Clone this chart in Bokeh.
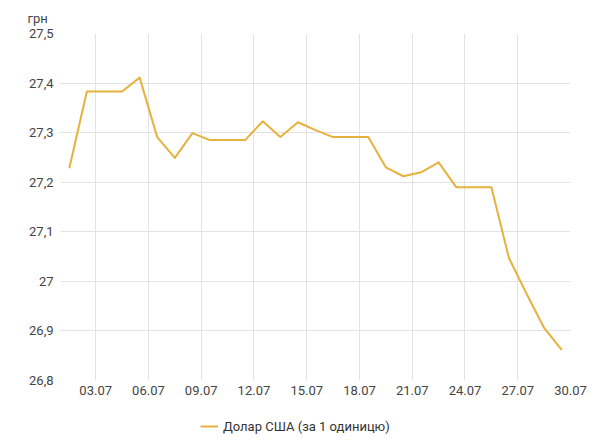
from bokeh.plotting import figure
from bokeh.layouts import column
from bokeh.models import Range1d, FixedTicker, Legend, LegendItem
from bokeh.embed import file_html
from bokeh.resources import INLINE

# --- data -------------------------------------------------------------
days = list(range(1, 30))  # July 1..29, values at mid-day
usd_rate = [27.228, 27.383, 27.383, 27.383, 27.411, 27.291, 27.249, 27.299,
            27.285, 27.285, 27.285, 27.323, 27.291, 27.321, 27.305, 27.291,
            27.291, 27.291, 27.230, 27.212, 27.220, 27.240, 27.190, 27.190,
            27.190, 27.047, 26.975, 26.906, 26.862]
x_ticks = [3, 6, 9, 12, 15, 18, 21, 24, 27, 30]
x_tick_labels = ["03.07", "06.07", "09.07", "12.07", "15.07", "18.07",
                 "21.07", "24.07", "27.07", "30.07"]
y_ticks = [26.8, 26.9, 27.0, 27.1, 27.2, 27.3, 27.4, 27.5]
y_tick_labels = ["26,8", "26,9", "27", "27,1", "27,2", "27,3", "27,4", "27,5"]
series_name = "Долар США (за 1 одиницю)"
unit_label = "грн"

NOON = 0.5
xs = [d + NOON for d in days]

FONT = "Roboto"
TXT = "#444444"
GRID = "#e3e3e3"
LINE = "#e6b13c"

# --- main chart -------------------------------------------------------
p = figure(width=600, height=404, x_range=Range1d(1, 30), y_range=Range1d(26.8, 27.5),
           output_backend="svg", toolbar_location=None,
           min_border_left=60, min_border_right=30, min_border_top=32, min_border_bottom=24)
p.outline_line_color = None
p.background_fill_color = "white"

p.line(xs, usd_rate, line_color=LINE, line_width=2, line_join="round")

for ax in (p.xaxis[0], p.yaxis[0]):
    ax.axis_line_color = None
    ax.major_tick_line_color = None
    ax.minor_tick_line_color = None
    ax.major_tick_out = 0
    ax.major_tick_in = 0
    ax.major_label_text_font = FONT
    ax.major_label_text_font_size = "13px"
    ax.major_label_text_color = TXT

p.xaxis.ticker = FixedTicker(ticks=x_ticks)
p.xaxis.major_label_overrides = dict(zip(x_ticks, x_tick_labels))
p.xaxis.major_label_standoff = 5

p.yaxis.ticker = FixedTicker(ticks=y_ticks)
p.yaxis.major_label_overrides = dict(zip(y_ticks, y_tick_labels))
p.yaxis.major_label_standoff = 7

p.xgrid.grid_line_color = GRID
p.ygrid.grid_line_color = GRID

p.title.text = unit_label
p.title.align = "left"
p.title.offset = -33
p.title.standoff = 16
p.title.text_font = FONT
p.title.text_font_size = "13px"
p.title.text_font_style = "normal"
p.title.text_color = TXT

# --- legend strip (same series, drawn outside its visible range) -------
lg = figure(width=600, height=38, x_range=Range1d(-100, -50), y_range=Range1d(0, 1),
            output_backend="svg", toolbar_location=None,
            x_axis_location=None, y_axis_location=None,
            min_border=0, min_border_left=0, min_border_right=0,
            min_border_top=0, min_border_bottom=0)
lg.outline_line_color = None
lg.xgrid.visible = False
lg.ygrid.visible = False
r2 = lg.line(xs, usd_rate, line_color=LINE, line_width=2)

legend = Legend(items=[LegendItem(label=series_name, renderers=[r2])],
                location=(140, 8), orientation="horizontal",
                border_line_color=None, background_fill_alpha=0,
                padding=0, margin=0, spacing=0,
                glyph_width=18, glyph_height=16, label_standoff=5,
                label_text_font=FONT, label_text_font_size="13px",
                label_text_color="#333333")
lg.add_layout(legend)

layout = column(p, lg, spacing=0)
open("out.html", "w").write(file_html(layout, INLINE))
